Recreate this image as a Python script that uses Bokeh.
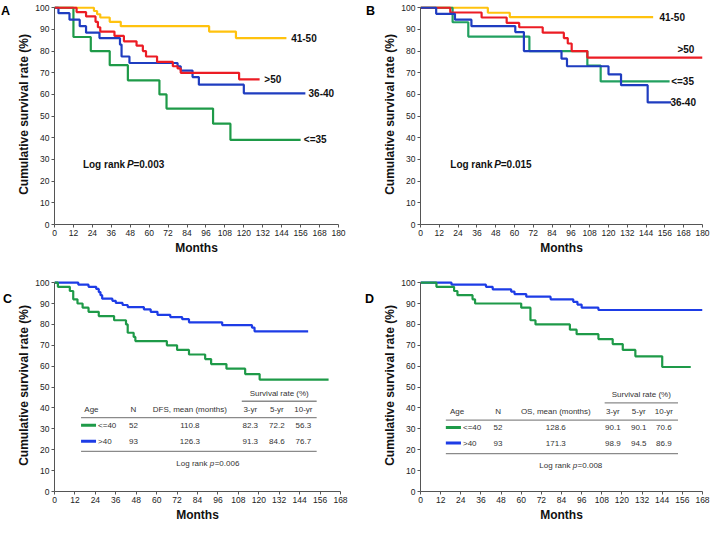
from bokeh.plotting import figure
from bokeh.layouts import column, row
from bokeh.models import Range1d, FixedTicker, Label
from bokeh.embed import file_html
from bokeh.resources import INLINE

FONT = "Liberation Sans"

# ---------------- data ----------------
# Panel A (4 age groups)
a_4150_t = [0, 25, 27, 29, 35, 42, 98, 115, 147]
a_4150_s = [100, 98.5, 97, 95.5, 93.5, 91.5, 89, 86, 86]
a_gt50_t = [0, 14, 20, 26, 27.5, 29, 38, 44, 52, 56, 58, 65, 75, 78, 80, 117, 130]
a_gt50_s = [100, 98, 96, 93.5, 91, 89, 87, 84.5, 82.5, 80, 77.5, 75, 73, 72, 70, 67, 67]
a_3640_t = [0, 2.5, 9.5, 16, 20, 28.5, 41.5, 42.5, 47.5, 78, 80, 87.5, 91.5, 120, 159]
a_3640_s = [100, 97.5, 94.5, 91.5, 88.5, 86, 83, 77.5, 74.5, 73, 71, 68, 64.5, 60.5, 60.5]
a_le35_t = [0, 12, 23, 35, 46.5, 66.5, 71, 100.5, 111.5, 156]
a_le35_s = [100, 86.5, 80, 73.5, 66.5, 60, 53.5, 46.5, 39, 39]
a_pvalue = "0.003"

# Panel B (4 age groups)
b_4150_t = [0, 43, 57, 148.5]
b_4150_s = [100, 97.7, 95.7, 95.7]
b_gt50_t = [0, 19, 39, 55, 63, 78, 91.5, 94, 96.5, 106.5, 180]
b_gt50_s = [100, 97.8, 95.5, 93, 91, 88.5, 86, 83.5, 80, 77, 77]
b_le35_t = [0, 20.5, 30.5, 69.5, 106.5, 115, 159]
b_le35_s = [100, 93.3, 86.7, 80, 73.3, 66, 66]
b_3640_t = [0, 10, 22, 32.5, 60.5, 66, 90, 93.5, 120, 128, 145, 160]
b_3640_s = [100, 97.2, 94.5, 91.5, 88.8, 80, 76.5, 73, 69.3, 64.3, 56.3, 56.3]
b_pvalue = "0.015"

# Panel C (two groups, DFS)
c_gt40_t = [0, 14, 20, 24.5, 26, 27, 28, 34, 36, 40, 43, 52.5, 56.5, 60.5, 68, 75, 79, 98.5, 116, 117.5, 149]
c_gt40_s = [100, 99, 98, 97, 95.5, 94, 92.3, 91.3, 90.3, 89.3, 88.3, 87.2, 86, 84.6, 83.5, 82.5, 81, 79.7, 78.5, 76.7, 76.7]
c_le40_t = [0, 2, 9, 11, 13.5, 16.5, 20, 26, 35, 42, 43, 46.5, 47.5, 66, 72, 79, 88.5, 92, 101, 112, 120.5, 161]
c_le40_s = [100, 98, 96, 92, 90, 88, 86, 84, 82, 80, 76, 74, 72, 70, 67.8, 65.6, 63.4, 61, 58.8, 56.2, 53.6, 53.6]

# Panel D (two groups, OS)
d_gt40_t = [0, 18.5, 39, 43, 54, 56, 63, 77.5, 91, 93.5, 96, 106, 168]
d_gt40_s = [100, 99, 98, 96.8, 95.7, 94.5, 93.3, 92, 90.8, 89.5, 88, 86.9, 86.9]
d_le40_t = [0, 9.5, 20, 22, 31, 32.5, 60, 65.5, 68.5, 89, 93, 106, 114.5, 120.5, 128, 144, 161]
d_le40_s = [100, 98, 96, 94, 92, 90, 88, 82, 80, 77.5, 75.3, 73, 70.6, 67.8, 64.7, 59.6, 59.6]

# Tables
tbl_header = ["Age", "N", "{}, mean (months)", "3-yr", "5-yr", "10-yr"]
c_row1 = ["<=40", "52", "110.8", "82.3", "72.2", "56.3"]
c_row2 = [">40", "93", "126.3", "91.3", "84.6", "76.7"]
c_pvalue = "0.006"
d_row1 = ["<=40", "52", "128.6", "90.1", "90.1", "70.6"]
d_row2 = [">40", "93", "171.3", "98.9", "94.5", "86.9"]
d_pvalue = "0.008"

panel_letters = ["A", "B", "C", "D"]

YELLOW = "#FFC20E"
RED = "#EC1C24"
BLUE = "#1F3DC0"
BLUE2 = "#1D3CE6"
GREEN = "#1E9A48"
GREEN_B = "#22A060"


def base_fig(w, h, xmax, bl, br, bt, bb):
    p = figure(width=w, height=h, x_range=Range1d(0, xmax), y_range=Range1d(0, 101.5),
               output_backend="svg", toolbar_location=None,
               min_border_left=bl, min_border_right=br, min_border_top=bt, min_border_bottom=bb)
    p.outline_line_color = None
    p.xgrid.visible = False
    p.ygrid.visible = False
    p.xaxis.ticker = FixedTicker(ticks=list(range(0, xmax + 1, 12)))
    p.yaxis.ticker = FixedTicker(ticks=list(range(0, 101, 10)))
    p.yaxis.bounds = (0, 100)
    for ax in (p.xaxis[0], p.yaxis[0]):
        ax.axis_line_color = "#555555"
        ax.axis_line_width = 1
        ax.major_tick_line_color = "#555555"
        ax.major_tick_in = 0
        ax.major_tick_out = 3
        ax.minor_tick_line_color = None
        ax.major_label_text_font = FONT
        ax.major_label_text_font_size = "8.5px"
        ax.major_label_text_color = "#222222"
        ax.major_label_standoff = 2
        ax.axis_label_text_font = FONT
        ax.axis_label_text_font_size = "12px"
        ax.axis_label_text_font_style = "bold"
        ax.axis_label_text_color = "#111111"
        ax.axis_label_standoff = 2
    p.yaxis.axis_label_standoff = 1
    p.xaxis.axis_label = "Months"
    p.yaxis.axis_label = "Cumulative survival rate (%)"
    return p


def letter_fig(w, h, letter, x, y):
    p = figure(width=w, height=h, x_range=Range1d(0, w), y_range=Range1d(0, h),
               output_backend="svg", toolbar_location=None, min_border=0,
               x_axis_location=None, y_axis_location=None)
    p.outline_line_color = None
    p.xgrid.visible = False
    p.ygrid.visible = False
    p.add_layout(Label(x=x, y=y, text=letter, text_font=FONT, text_font_size="12.5px",
                       text_font_style="bold", text_align="center", text_baseline="middle",
                       text_color="#000000"))
    return p


def lab(p, x, y, text, size="10px", style="bold", align="left", xoff=0, color="#111111"):
    p.add_layout(Label(x=x, y=y, x_offset=xoff, text=text, text_font=FONT, text_font_size=size,
                       text_font_style=style, text_align=align, text_baseline="middle",
                       text_color=color))


def curve(p, t, s, color):
    p.step(t, s, mode="after", line_color=color, line_width=2.2)


def logrank_bold(p, x, y, pval):
    lab(p, x, y, "Log rank")
    lab(p, x, y, "P", style="bold italic", xoff=44)
    lab(p, x, y, "=" + pval, xoff=50.5)


H1, H2 = 257, 267

# ---------------- Panel A ----------------
pA = base_fig(334, H1, 180, 39, 10, 4, 32)
curve(pA, a_4150_t, a_4150_s, YELLOW)
curve(pA, a_le35_t, a_le35_s, GREEN)
curve(pA, a_3640_t, a_3640_s, BLUE)
curve(pA, a_gt50_t, a_gt50_s, RED)
lab(pA, 150, a_4150_s[-1], "41-50")
lab(pA, 133, a_gt50_s[-1], ">50")
lab(pA, 161, a_3640_s[-1], "36-40")
lab(pA, 158, a_le35_s[-1], "<=35")
logrank_bold(pA, 18, 27.5, a_pvalue)

# ---------------- Panel B ----------------
pB = base_fig(331, H1, 180, 38, 9, 4, 32)
curve(pB, b_4150_t, b_4150_s, YELLOW)
curve(pB, b_le35_t, b_le35_s, GREEN_B)
curve(pB, b_gt50_t, b_gt50_s, RED)
curve(pB, b_3640_t, b_3640_s, BLUE)
lab(pB, 152.5, b_4150_s[-1], "41-50")
lab(pB, 164, 80.8, ">50")
lab(pB, 160, b_le35_s[-1], "<=35")
lab(pB, 159.5, b_3640_s[-1], "36-40")
logrank_bold(pB, 19, 27.5, b_pvalue)


# ---------------- Panels C & D ----------------
def table(p, xs, ys, header_word, r1, r2, pval, lcol):
    x_age, x_n, x_mean, x3, x5, x10, x_l0, x_l1, x_s0, x_leg1 = xs
    y_surv, y_sline, y_head, y_hline, y_r1, y_r2, y_bline, y_lr = ys
    tc = "#333333"
    fs = "8px"
    lab(p, (x_s0 + x_l1) / 2, y_surv, "Survival rate (%)", size=fs, style="normal", align="center", color=tc)
    p.segment([x_s0, x_l0, x_l0], [y_sline, y_hline, y_bline], [x_l1, x_l1, x_l1], [y_sline, y_hline, y_bline],
              line_color="#8a8a8a", line_width=1.3)
    heads = [h.format(header_word) for h in tbl_header]
    cols = [x_age, x_n, x_mean, x3, x5, x10]
    for i, h in enumerate(heads):
        lab(p, cols[i], y_head, h, size=fs, style="normal", align="left" if i == 0 else "center", color=tc)
    for r, yy, c in ((r1, y_r1, lcol[0]), (r2, y_r2, lcol[1])):
        p.segment([x_l0], [yy], [x_leg1], [yy], line_color=c, line_width=3)
        lab(p, x_leg1 + 1.2, yy, r[0], size=fs, style="normal", color=tc)
        for i in range(1, 6):
            lab(p, cols[i], yy, r[i], size=fs, style="normal", align="center", color=tc)
    cx = (x_l0 + x_l1) / 2 + 5
    lab(p, cx, y_lr, "Log rank", size=fs, style="normal", color=tc, xoff=-31)
    lab(p, cx, y_lr, "p", size=fs, style="italic", color=tc, xoff=2.5)
    lab(p, cx, y_lr, "=" + pval, size=fs, style="normal", color=tc, xoff=7.3)


pC = base_fig(334, H2, 168, 39, 8, 22, 32)
curve(pC, c_gt40_t, c_gt40_s, BLUE2)
curve(pC, c_le40_t, c_le40_s, GREEN)
table(pC, [17.5, 46.4, 79.5, 115, 130.6, 146.2, 15.6, 154, 110, 24.4],
      [47.1, 43.2, 39.2, 35.4, 31.7, 24.1, 19.2, 13.5], "DFS", c_row1, c_row2, c_pvalue, (GREEN, BLUE2))

pD = base_fig(331, H2, 168, 40, 9, 22, 32)
curve(pD, d_gt40_t, d_gt40_s, BLUE2)
curve(pD, d_le40_t, d_le40_s, GREEN)
table(pD, [17.5, 46.2, 80.6, 114.6, 130, 145, 15.1, 153.4, 109.7, 24.1],
      [46.4, 42.4, 38.2, 34.2, 30.7, 23.2, 18.1, 12.3], "OS", d_row1, d_row2, d_pvalue, (GREEN, BLUE2))

lA = letter_fig(14, H1, panel_letters[0], 5, H1 - 8)
lB = letter_fig(32, H1, panel_letters[1], 22, H1 - 8)
lC = letter_fig(14, H2, panel_letters[2], 7, H2 - 24)
lD = letter_fig(32, H2, panel_letters[3], 21, H2 - 25)

layout = column(row(lA, pA, lB, pB), row(lC, pC, lD, pD))
open("out.html", "w").write(file_html(layout, INLINE))
